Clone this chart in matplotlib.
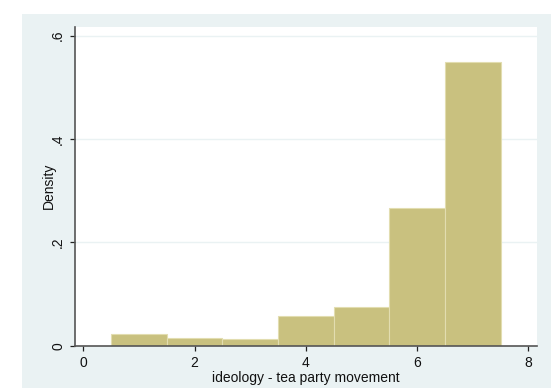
import matplotlib
matplotlib.use("Agg")
import matplotlib.pyplot as plt
from matplotlib.patches import Rectangle

# histogram of ideology (bins of width 1, centred on 1..7)
bin_centers = [1, 2, 3, 4, 5, 6, 7]
densities = [0.0226, 0.0155, 0.013, 0.058, 0.0749, 0.266, 0.5497]
xticks = [0, 2, 4, 6, 8]
yticks = [0, 0.2, 0.4, 0.6]
ytick_labels = ["0", ".2", ".4", ".6"]

plt.rcParams['font.family'] = ['Liberation Sans', 'DejaVu Sans']

W, H = 560, 388
fig = plt.figure(figsize=(W / 100, H / 100), dpi=100)
fig.patch.set_facecolor('white')

# stata-ish graph region, drawn behind the axes
fig.add_artist(Rectangle((22 / W, 0), (551 - 22) / W, (H - 14) / H,
                         transform=fig.transFigure, facecolor='#EAF2F3',
                         edgecolor='none', zorder=-10))

ax = fig.add_axes([75 / W, 1 - 345.7 / H, 462 / W, 319 / H])
ax.set_zorder(1)
ax.set_facecolor('white')

ax.bar(bin_centers, densities, width=1.0, color='#C9C17F',
       edgecolor='#E2DDB0', linewidth=0.8, zorder=3)

ax.set_xlim(-0.15, 8.156)
ax.set_ylim(0, 0.6175)
ax.set_xticks(xticks)
ax.set_xticklabels([str(t) for t in xticks], fontsize=10)
ax.set_yticks(yticks)
ax.set_yticklabels(ytick_labels, fontsize=10, rotation=90, va='center')

for y in yticks[1:]:
    ax.axhline(y, color='#EAF2F3', linewidth=1.0, zorder=1)

for s in ['top', 'right']:
    ax.spines[s].set_visible(False)
for s in ['left', 'bottom']:
    ax.spines[s].set_color('#555555')
    ax.spines[s].set_linewidth(1.2)
    ax.spines[s].set_zorder(4)

ax.tick_params(axis='both', direction='out', length=3.6, width=0.9,
               color='#222222', pad=3.5, labelcolor='#111111')

ax.set_xlabel('ideology - tea party movement', fontsize=10, color='#111111')
ax.set_ylabel('Density', fontsize=10, color='#111111')
ax.xaxis.set_label_coords(0.5, -0.08)
ax.yaxis.set_label_coords(-0.041, 0.5)

fig.savefig('out.png', dpi=100)
